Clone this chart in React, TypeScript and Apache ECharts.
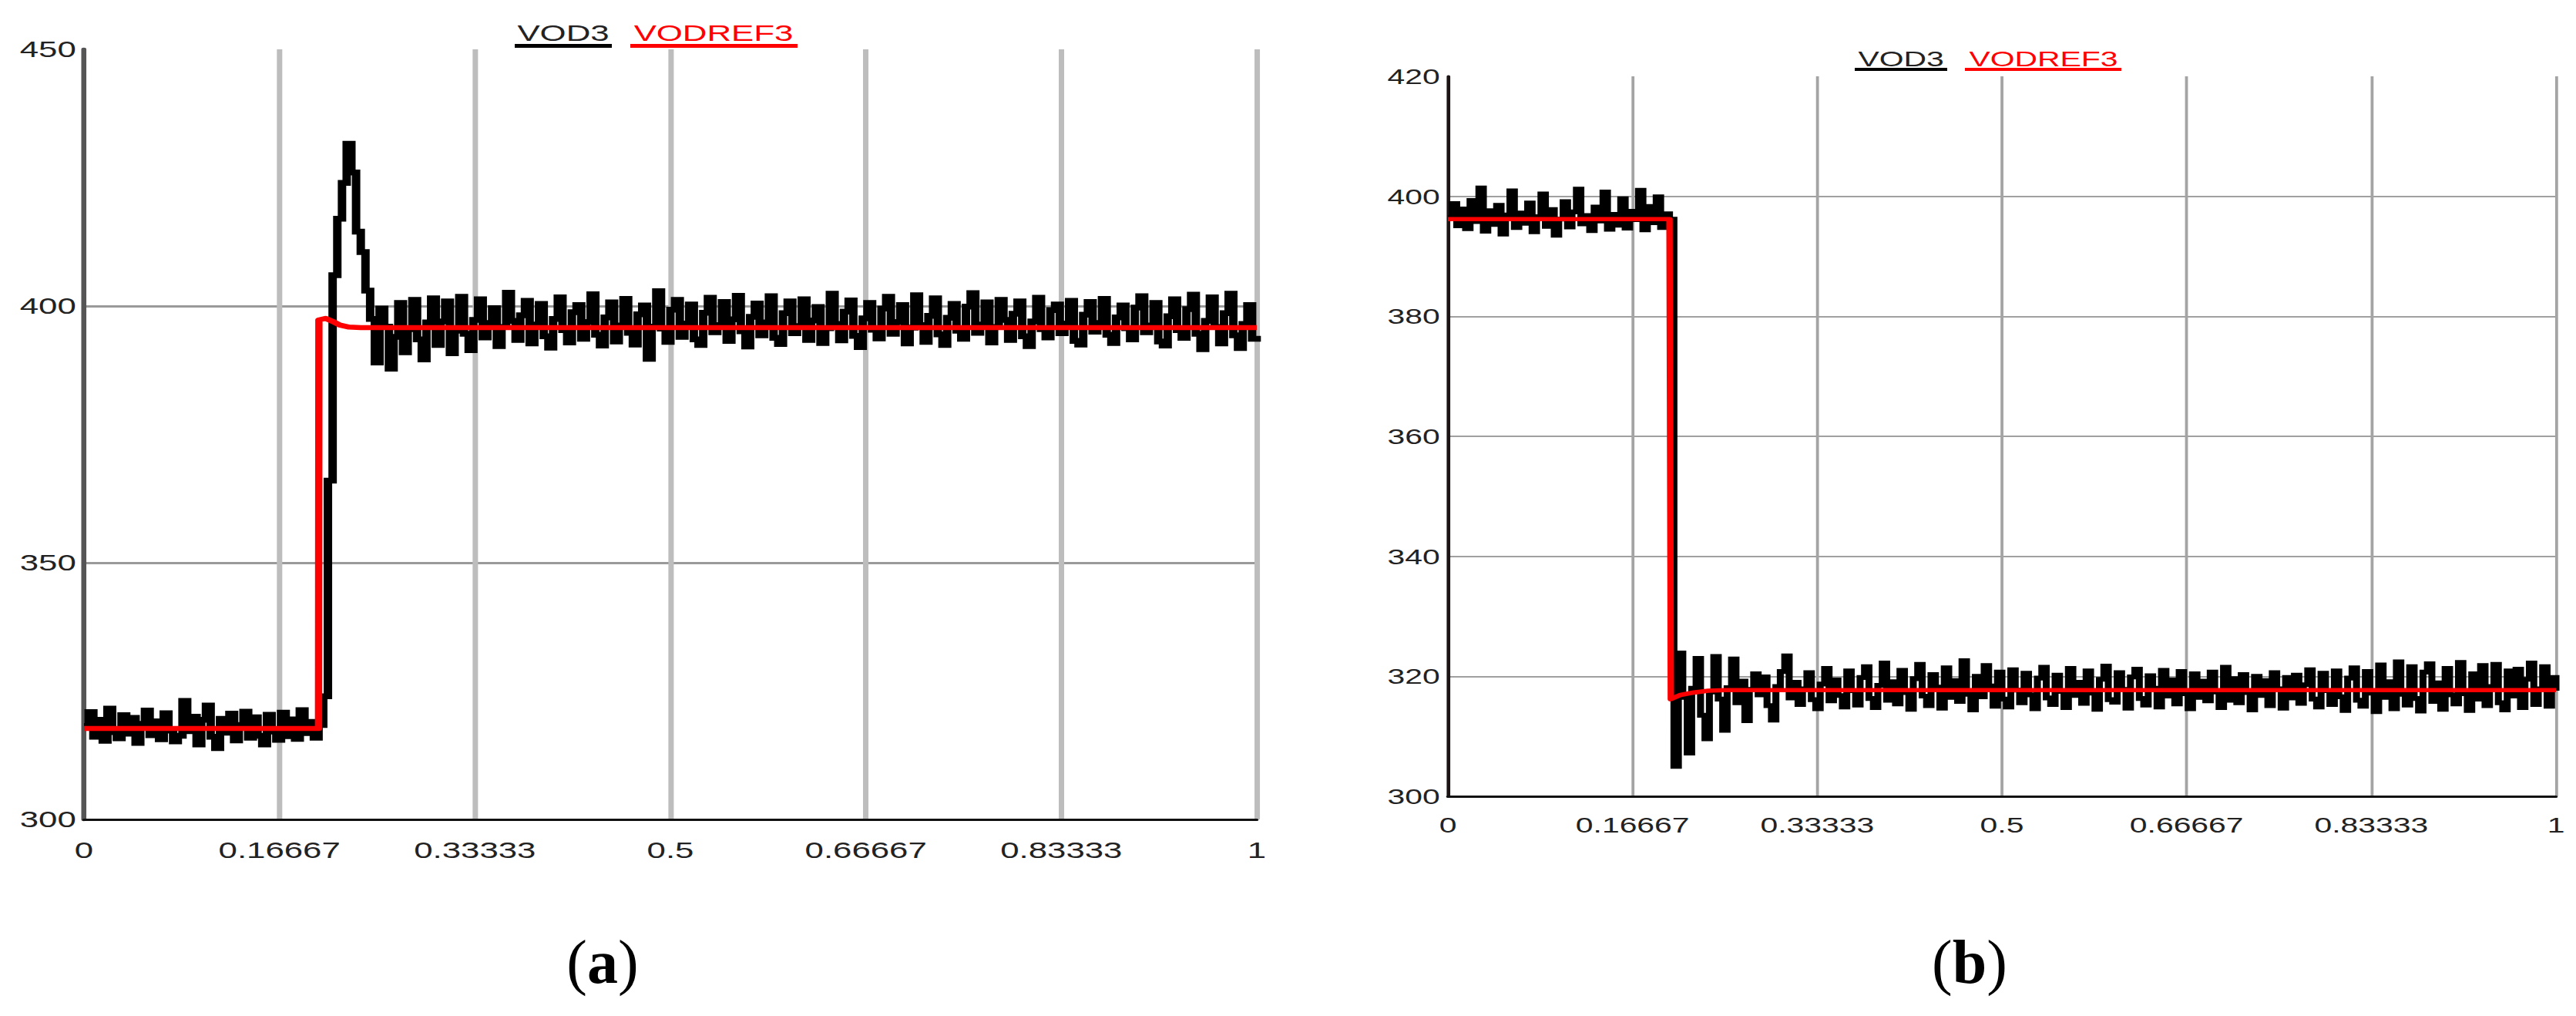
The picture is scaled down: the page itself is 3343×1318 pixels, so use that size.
import React, { useEffect, useRef } from 'react';
import * as echarts from 'echarts';

// ---------- page geometry ----------
const PAGE_W = 3343;
const PAGE_H = 1318;
// the reference figure is stretched horizontally; the chart is drawn narrower and scaled back out
const STRETCH = 1.46;
const CHART_W = PAGE_W / STRETCH;
const fx = (px: number) => px / STRETCH;

const SANS = '"Liberation Sans", Arial, Helvetica, sans-serif';
const SERIF = '"Liberation Serif", "Times New Roman", serif';

// ---------- data ----------
const X_TICKS = [0, 0.16667, 0.33333, 0.5, 0.66667, 0.83333, 1];
const X_TICK_LABELS = ['0', '0.16667', '0.33333', '0.5', '0.66667', '0.83333', '1'];

const LEGEND_NAMES = ['VOD3', 'VODREF3'];
const PANEL_LABELS = ['a', 'b'];

// sampling period of the plotted traces (time axis 0..1)
const T_STEP = 0.004;

// (a) VOD3 measured
const A_VOD3 = [
  318.2, 320.9, 316.1, 319.4, 315.3, 321.6, 317.0, 315.8, 320.3, 316.7,
  319.8, 314.9, 318.6, 321.2, 316.4, 319.1, 315.6, 320.7, 317.3, 315.2,
  316.3, 323.1, 317.2, 320.0, 314.6, 319.4, 322.2, 316.1, 313.9, 319.6,
  316.9, 320.6, 315.4, 318.4, 321.0, 315.9, 319.9, 316.3, 314.6, 320.4,
  317.1, 315.5, 320.8, 316.2, 319.5, 315.7, 321.3, 316.8, 319.0, 315.9,
  318.4, 324.0, 366.0, 406.0, 417.0, 424.0, 431.6, 426.0, 414.5, 410.5,
  403.0, 397.5, 389.0, 399.5, 396.0, 387.8, 394.0, 400.6, 391.0, 395.5,
  401.2, 393.5, 389.6, 396.8, 401.5, 392.4, 397.0, 400.9, 390.8, 395.2,
  401.8, 394.6, 391.4, 397.3, 401.3, 393.9, 396.7, 399.6, 392.2, 395.9,
  402.6, 397.1, 393.4, 398.2, 401.0, 392.7, 396.4, 400.4, 394.1, 391.9,
  397.5, 401.7, 395.3, 392.9, 398.8, 400.2, 393.6, 396.9, 402.3, 394.4,
  392.3, 397.8, 400.7, 393.1, 396.2, 401.4, 394.8, 392.5, 398.4, 400.1,
  389.7, 396.0, 402.9, 395.6, 393.0, 399.3, 401.2, 394.0, 396.6, 400.3,
  393.5, 392.4, 398.7, 401.6, 394.9, 396.3, 400.8, 393.2, 397.4, 402.0,
  395.1, 392.1, 397.9, 400.5, 394.3, 396.8, 401.9, 393.8, 392.6, 398.6,
  400.9, 394.7, 396.1, 401.3, 393.4, 397.2, 399.8, 392.8, 395.7, 402.4,
  396.5, 393.3, 398.9, 401.1, 394.2, 392.0, 397.6, 400.6, 395.4, 393.7,
  399.5, 401.8, 394.6, 396.9, 400.2, 392.7, 395.8, 402.1, 396.3, 393.0,
  398.1, 401.5, 394.5, 392.4, 397.7, 400.4, 395.2, 393.6, 399.9, 402.5,
  394.8, 396.4, 400.7, 392.9, 395.9, 401.2, 397.3, 393.4, 398.5, 400.9,
  394.1, 392.2, 397.0, 401.6, 395.5, 393.9, 399.2, 400.3, 394.7, 396.6,
  401.0, 393.2, 392.5, 398.3, 400.8, 395.0, 396.7, 401.4, 394.4, 392.8,
  397.8, 400.1, 395.7, 393.5, 399.7, 401.9, 394.9, 396.2, 400.6, 393.1,
  392.3, 398.0, 401.3, 395.3, 393.8, 399.4, 402.2, 394.6, 391.6, 397.1,
  401.7, 395.9, 392.7, 398.6, 402.4, 394.3, 391.8, 396.5, 400.2, 393.6,
  394.2,
];

// (a) VODREF3 reference
const A_VODREF3_T = [0, 0.2, 0.2003, 0.206, 0.212, 0.218, 0.226, 0.236, 0.25, 1];
const A_VODREF3_V = [317.7, 317.7, 397.3, 397.6, 397.0, 396.3, 395.9, 395.8, 395.8, 395.8];

// (b) VOD3 measured
const B_VOD3 = [
  396.4, 398.8, 395.1, 397.9, 394.6, 399.3, 395.8, 401.4, 394.2, 397.6,
  395.3, 398.5, 393.7, 396.9, 400.9, 394.8, 397.2, 395.5, 398.9, 394.1,
  396.6, 400.4, 395.0, 397.8, 393.5, 396.2, 399.1, 394.9, 397.4, 401.2,
  395.4, 396.8, 394.3, 398.2, 395.9, 400.7, 394.5, 397.0, 395.2, 399.6,
  394.7, 397.5, 396.1, 401.0, 394.4, 398.3, 395.6, 399.9, 394.8, 397.1,
  396.2, 305.0, 323.9, 316.5, 307.2, 318.0, 323.0, 313.5, 309.6, 317.4,
  323.3, 316.2, 311.0, 318.1, 322.9, 315.6, 319.2, 312.6, 317.8, 320.4,
  316.9, 319.9, 315.1, 312.7, 318.3, 320.8, 323.4, 316.4, 319.0, 315.3,
  317.9, 320.6, 316.1, 314.6, 318.7, 321.3, 315.9, 319.4, 316.8, 314.9,
  320.9, 317.6, 315.2, 319.8, 321.6, 316.3, 314.8, 318.5, 322.2, 316.0,
  319.1, 315.4, 321.0, 317.3, 314.5, 319.6, 322.0, 316.7, 315.1, 320.3,
  318.2, 314.7, 321.4, 316.5, 319.3, 315.8, 322.6, 317.0, 314.4, 320.0,
  316.6, 321.8, 318.4, 315.0, 320.7, 316.2, 314.9, 321.1, 317.7, 315.6,
  320.5, 316.9, 314.6, 319.7, 321.5, 316.4, 315.3, 320.2, 317.5, 314.8,
  321.3, 316.8, 319.0, 315.5, 320.9, 317.2, 314.5, 319.5, 321.7, 316.1,
  315.7, 320.6, 317.8, 314.7, 319.9, 321.2, 316.3, 315.2, 320.1, 318.0,
  314.9, 321.0, 316.7, 319.4, 315.4, 320.8, 317.1, 314.6, 320.4, 316.5,
  319.2, 315.9, 320.7, 317.4, 314.8, 321.5, 316.0, 319.6, 315.6, 320.3,
  317.3, 314.4, 320.0, 316.8, 319.3, 315.1, 320.6, 317.9, 314.7, 319.8,
  316.4, 320.2, 315.5, 318.6, 321.1, 316.2, 314.9, 320.5, 317.6, 315.3,
  320.9, 316.6, 314.3, 319.7, 321.4, 316.0, 315.0, 320.8, 317.2, 314.1,
  321.9, 316.5, 319.1, 314.6, 322.4, 317.0, 315.2, 321.6, 316.3, 314.2,
  320.7, 322.1, 315.8, 318.9, 314.5, 321.3, 316.9, 315.4, 322.3, 317.1,
  314.3, 320.4, 316.2, 321.8, 315.1, 318.3, 322.0, 315.6, 314.4, 320.9,
  316.7, 321.2, 314.8, 319.5, 322.2, 315.3, 317.9, 321.6, 315.0, 319.8,
  317.6,
];

// (b) VODREF3 reference
const B_VODREF3_T = [0, 0.2, 0.2012, 0.21, 0.222, 0.235, 0.25, 1];
const B_VODREF3_V = [396.2, 396.2, 316.2, 316.9, 317.3, 317.6, 317.7, 317.7];

// ---------- helpers ----------
const tickLabel = (v: number) => {
  const k = X_TICKS.findIndex((t) => Math.abs(t - v) < 1e-6);
  return k >= 0 ? X_TICK_LABELS[k] : String(v);
};

type AxisLook = {
  fontSize: number;
  xMargin: number;
  yMargin: number;
  xAxisColor: string;
  xAxisWidth: number;
  yAxisColor: string;
  yAxisWidth: number;
  vGridColor: string;
  vGridWidth: number;
  hGridColor: string;
  hGridWidth: number;
};

const makeXAxis = (gridIndex: number, L: AxisLook) => ({
  type: 'value',
  gridIndex,
  min: 0,
  max: 1,
  axisLine: { show: true, onZero: false, lineStyle: { color: L.xAxisColor, width: L.xAxisWidth } },
  axisTick: { show: false, customValues: X_TICKS },
  axisLabel: {
    customValues: X_TICKS,
    formatter: tickLabel,
    fontSize: L.fontSize,
    fontFamily: SANS,
    color: '#222',
    margin: L.xMargin,
  },
  splitLine: {
    show: true,
    showMinLine: false,
    showMaxLine: true,
    lineStyle: { color: L.vGridColor, width: L.vGridWidth },
  },
});

const makeYAxis = (gridIndex: number, min: number, max: number, interval: number, L: AxisLook) => ({
  type: 'value',
  gridIndex,
  min,
  max,
  interval,
  axisLine: { show: true, onZero: false, lineStyle: { color: L.yAxisColor, width: L.yAxisWidth } },
  axisTick: { show: false },
  axisLabel: { fontSize: L.fontSize, fontFamily: SANS, color: '#222', margin: L.yMargin },
  splitLine: {
    show: true,
    showMinLine: false,
    showMaxLine: false,
    lineStyle: { color: L.hGridColor, width: L.hGridWidth },
  },
});

const LOOK_A: AxisLook = {
  fontSize: 30,
  xMargin: 25,
  yMargin: 7,
  xAxisColor: '#111',
  xAxisWidth: 3,
  yAxisColor: '#555',
  yAxisWidth: 4.5,
  vGridColor: '#bdbdbd',
  vGridWidth: 4.8,
  hGridColor: '#9a9a9a',
  hGridWidth: 3,
};

const LOOK_B: AxisLook = {
  fontSize: 28,
  xMargin: 23,
  yMargin: 7,
  xAxisColor: '#111',
  xAxisWidth: 3,
  yAxisColor: '#1c1414',
  yAxisWidth: 3.2,
  vGridColor: '#a4a4a4',
  vGridWidth: 2.6,
  hGridColor: '#a0a0a0',
  hGridWidth: 2.2,
};

const legendGroup = (
  fontSize: number,
  textY: number,
  lineY: number,
  lineH: number,
  items: { cx: number; x0: number; x1: number; color: string; textColor: string; name: string }[]
) =>
  items.flatMap((it) => [
    {
      type: 'text',
      x: fx(it.cx),
      y: textY,
      style: {
        text: it.name,
        fontSize,
        fontFamily: SANS,
        fill: it.textColor,
        align: 'center',
        verticalAlign: 'middle',
        textAlign: 'center',
        textVerticalAlign: 'middle',
      },
    },
    {
      type: 'rect',
      shape: { x: fx(it.x0), y: lineY, width: fx(it.x1 - it.x0), height: lineH },
      style: { fill: it.color },
    },
  ]);

const caption = (cx: number, cy: number, letter: string) => ({
  type: 'text',
  x: fx(cx),
  y: cy,
  scaleX: 1 / STRETCH,
  style: {
    text: '({b|' + letter + '})',
    fontSize: 80,
    fontFamily: SERIF,
    fill: '#000',
    align: 'center',
    verticalAlign: 'middle',
    textAlign: 'center',
    textVerticalAlign: 'middle',
    rich: { b: { fontSize: 80, fontFamily: SERIF, fontWeight: 'bold', fill: '#000' } },
  },
});

function buildOption() {
  return {
    animation: false,
    backgroundColor: '#ffffff',
    grid: [
      {
        left: fx(109),
        top: 64,
        width: fx(1631 - 109),
        height: 1063 - 64,
        containLabel: false,
        outerBoundsMode: 'none',
      },
      {
        left: fx(1879),
        top: 99,
        width: fx(3317 - 1879),
        height: 1033 - 99,
        containLabel: false,
        outerBoundsMode: 'none',
      },
    ],
    xAxis: [makeXAxis(0, LOOK_A), makeXAxis(1, LOOK_B)],
    yAxis: [makeYAxis(0, 300, 450, 50, LOOK_A), makeYAxis(1, 300, 420, 20, LOOK_B)],
    series: [
      {
        type: 'line',
        name: LEGEND_NAMES[0],
        xAxisIndex: 0,
        yAxisIndex: 0,
        data: A_VOD3.map((v, i) => [i * T_STEP, v]),
        step: 'end',
        symbol: 'none',
        showSymbol: false,
        silent: true,
        lineStyle: { color: '#000', width: 7.5, join: 'miter' },
        z: 2,
      },
      {
        type: 'line',
        name: LEGEND_NAMES[1],
        xAxisIndex: 0,
        yAxisIndex: 0,
        data: A_VODREF3_T.map((t, i) => [t, A_VODREF3_V[i]]),
        symbol: 'none',
        showSymbol: false,
        silent: true,
        lineStyle: { color: '#ff0000', width: 6.5, join: 'round' },
        z: 3,
      },
      {
        type: 'line',
        name: LEGEND_NAMES[0],
        xAxisIndex: 1,
        yAxisIndex: 1,
        data: B_VOD3.map((v, i) => [i * T_STEP, v]),
        step: 'end',
        symbol: 'none',
        showSymbol: false,
        silent: true,
        lineStyle: { color: '#000', width: 6.2, join: 'miter' },
        z: 2,
      },
      {
        type: 'line',
        name: LEGEND_NAMES[1],
        xAxisIndex: 1,
        yAxisIndex: 1,
        data: B_VODREF3_T.map((t, i) => [t, B_VODREF3_V[i]]),
        symbol: 'none',
        showSymbol: false,
        silent: true,
        lineStyle: { color: '#ff0000', width: 5.7, join: 'round' },
        z: 3,
      },
    ],
    graphic: [
      ...legendGroup(30, 43, 57, 5, [
        { cx: 731, x0: 668, x1: 794, color: '#000', textColor: '#222', name: LEGEND_NAMES[0] },
        { cx: 926, x0: 818, x1: 1035, color: '#ff0000', textColor: '#ff0000', name: LEGEND_NAMES[1] },
      ]),
      ...legendGroup(28, 76, 88, 4, [
        { cx: 2467, x0: 2407, x1: 2527, color: '#000', textColor: '#222', name: LEGEND_NAMES[0] },
        { cx: 2652, x0: 2550, x1: 2753, color: '#ff0000', textColor: '#ff0000', name: LEGEND_NAMES[1] },
      ]),
      caption(782, 1248, PANEL_LABELS[0]),
      caption(2556, 1248, PANEL_LABELS[1]),
    ],
  };
}

export default function App() {
  const ref = useRef<HTMLDivElement>(null);
  useEffect(() => {
    if (!ref.current) return;
    const chart = echarts.init(ref.current, null, { renderer: 'svg', width: CHART_W, height: PAGE_H });
    chart.setOption(buildOption() as any);
    return () => {
      chart.dispose();
    };
  }, []);
  return (
    <div
      style={{
        position: 'absolute',
        left: 0,
        top: 0,
        width: PAGE_W,
        height: PAGE_H,
        overflow: 'hidden',
        background: '#fff',
      }}
    >
      <div
        ref={ref}
        style={{
          width: CHART_W,
          height: PAGE_H,
          transform: `scaleX(${STRETCH})`,
          transformOrigin: '0 0',
        }}
      />
    </div>
  );
}
